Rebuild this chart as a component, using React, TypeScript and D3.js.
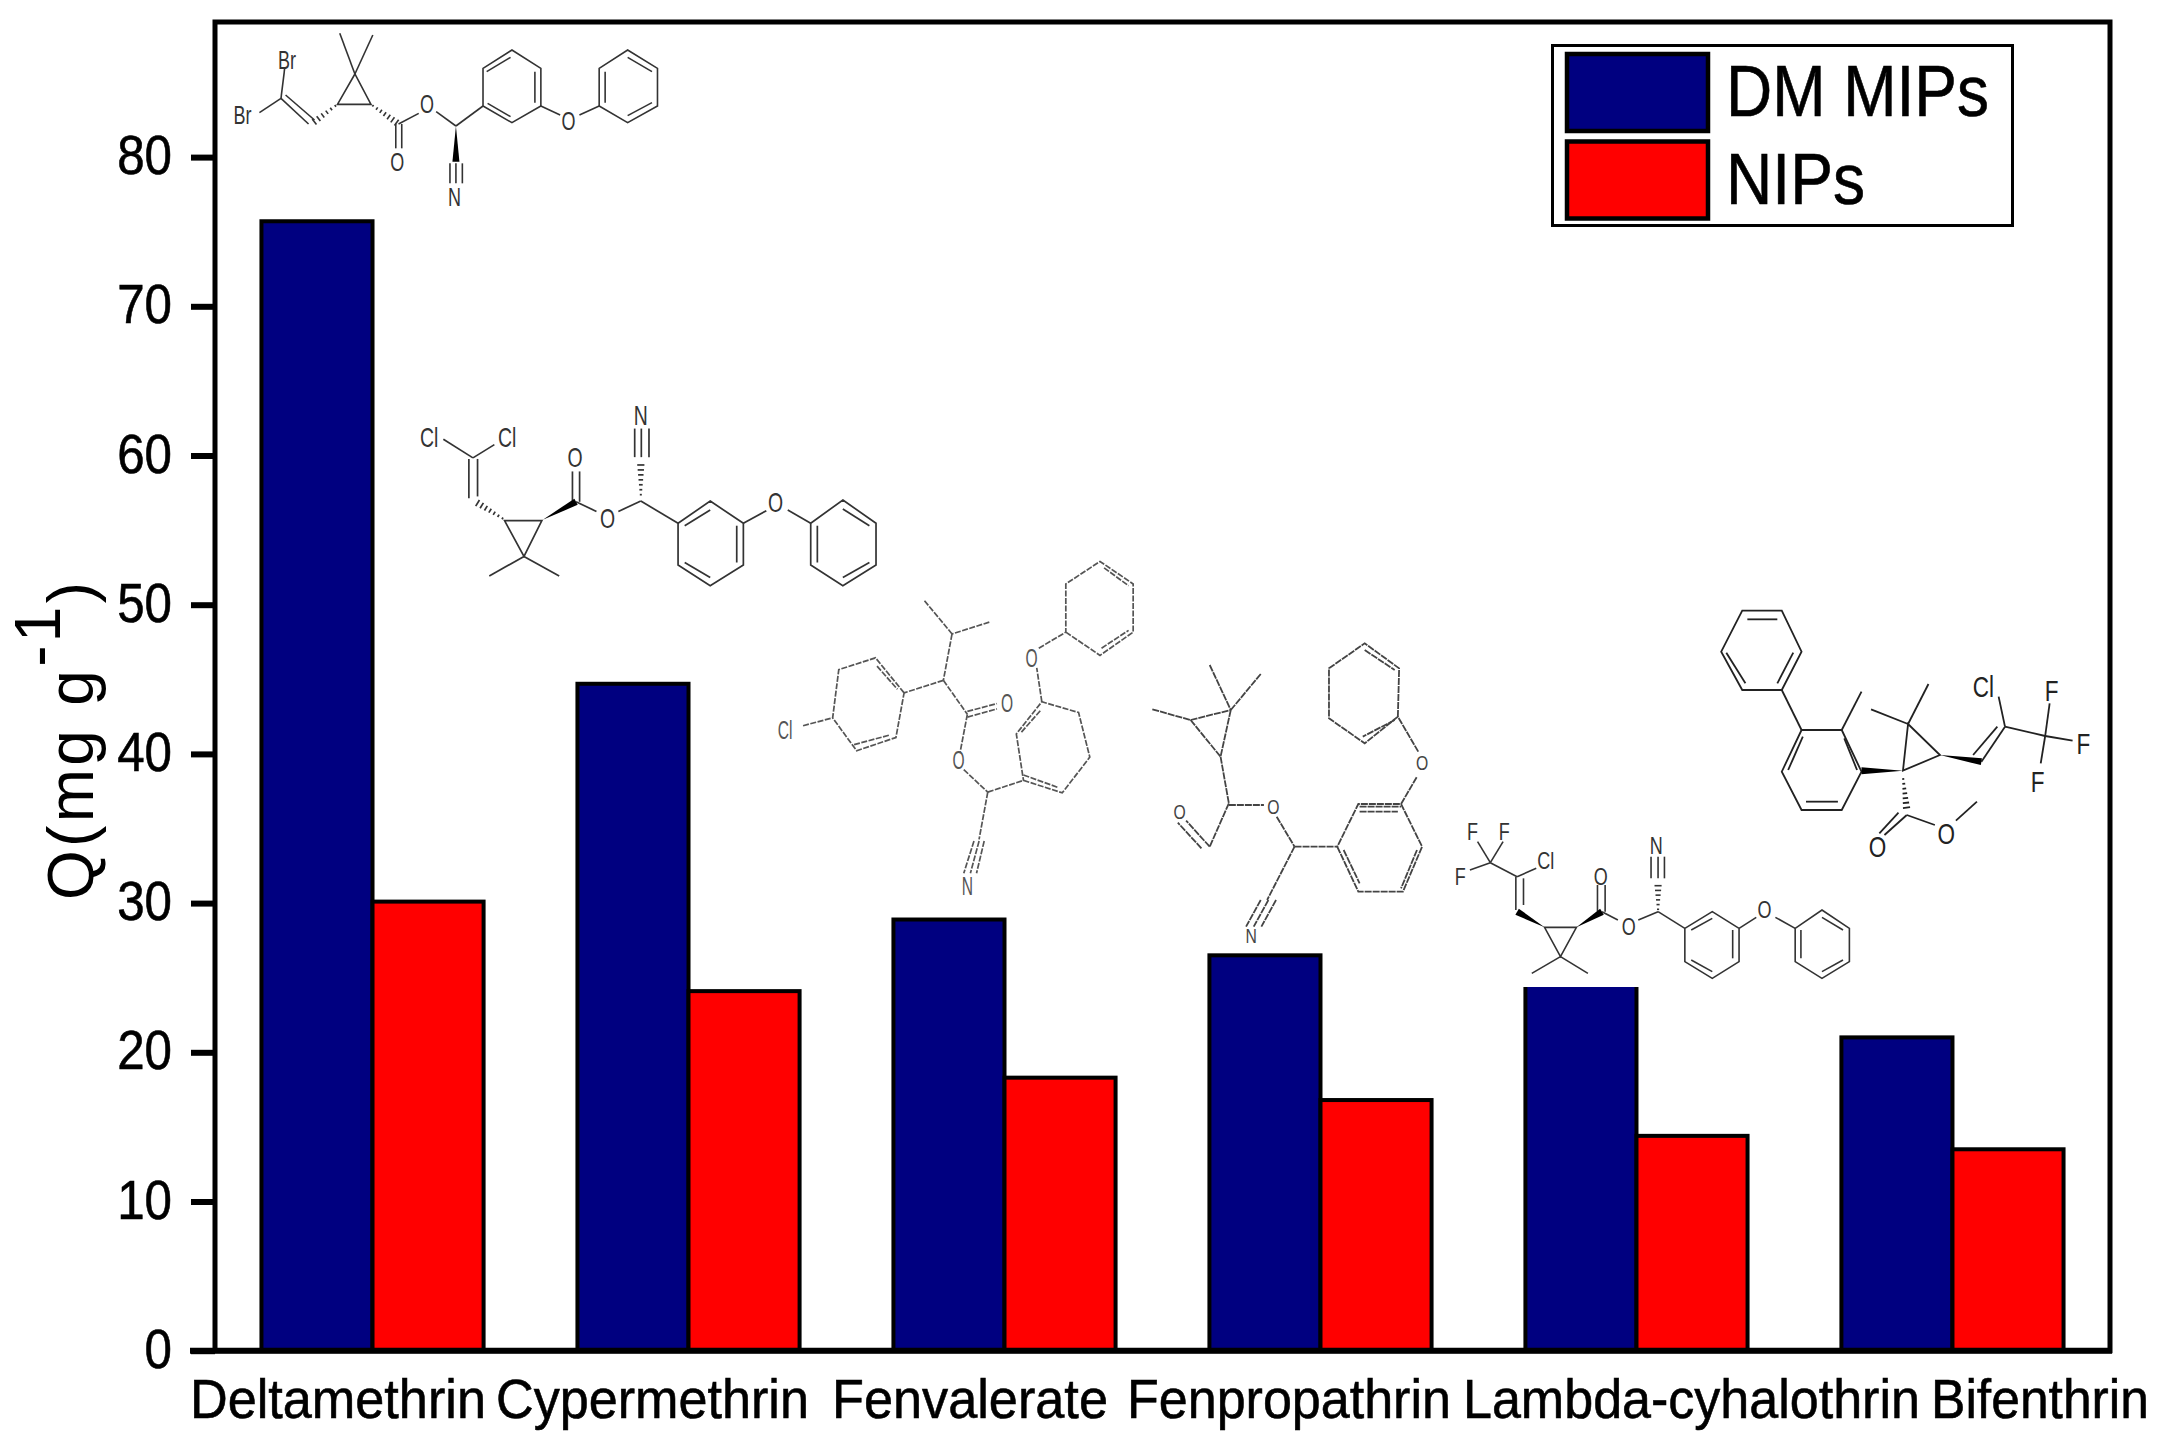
import { useEffect, useRef } from "react";
import * as d3 from "d3";

const categories = ["Deltamethrin", "Cypermethrin", "Fenvalerate", "Fenpropathrin", "Lambda-cyhalothrin", "Bifenthrin"];
const seriesNames = ["DM MIPs", "NIPs"];
const dmMips = [75.7, 44.7, 28.9, 26.5, 24.6, 21.0];
const nips = [30.1, 24.1, 18.3, 16.8, 14.4, 13.5];
const yTicks = [0, 10, 20, 30, 40, 50, 60, 70, 80];

const colors = ["#000080", "#ff0000"];
const FONT = "'Liberation Sans', Arial, sans-serif";

// hand-placed category label spans (the original squeezes them together)
const labelSpans = [
  [190, 486],
  [496, 809],
  [832, 1108],
  [1127, 1451],
  [1463, 1920],
  [1931, 2149],
];

type Seg = number[];
interface Molecule {
  ox: number;
  oy: number;
  sx: number;
  sy: number;
  font: number;
  squeeze: number;
  stroke: string;
  width: number;
  dash?: string;
  bonds: Seg[];
  rings?: number[][];
  wedges?: Seg[];
  hashes?: Seg[];
  labels: [string, number, number][];
}

// The structure drawings are decoration, in crop coordinates
const molecules: Molecule[] = [
  {
    ox: 0, oy: 0, sx: 1 / 2.178, sy: 1 / 3, font: 25, squeeze: 0.72, stroke: "#333", width: 1.6,
    bonds: [
      [740, 100, 773, 222], [812, 105, 773, 222], [612, 295, 672, 372], [622, 285, 685, 360],
      [612, 295, 620, 205], [612, 295, 565, 338], [875, 372, 875, 445], [862, 372, 862, 445],
      [868, 372, 912, 340], [950, 335, 993, 378], [980, 490, 980, 550], [993, 490, 993, 550], [1007, 490, 1007, 550],
      [993, 378, 1052, 318], [1060, 215, 1112, 172], [1165, 215, 1165, 308], [1062, 310, 1112, 350],
      [1178, 318, 1220, 345], [1262, 345, 1305, 318], [1318, 215, 1318, 308], [1367, 172, 1420, 215], [1367, 347, 1420, 308],
    ],
    rings: [
      [773, 222, 735, 313, 808, 313],
      [1115, 150, 1178, 205, 1178, 318, 1115, 368, 1052, 318, 1052, 205],
      [1367, 150, 1432, 205, 1432, 318, 1367, 368, 1305, 318, 1305, 205],
    ],
    wedges: [[993, 378, 993, 485]],
    hashes: [[735, 313, 680, 370], [808, 313, 868, 372]],
    labels: [["Br", 625, 180], ["Br", 528, 345], ["O", 930, 312], ["O", 865, 487], ["N", 990, 592], ["O", 1238, 362]],
  },
  {
    ox: 400, oy: 400, sx: 1 / 1.96, sy: 1 / 2.8, font: 27, squeeze: 0.72, stroke: "#333", width: 1.7,
    bonds: [
      [85, 110, 143, 162], [185, 125, 143, 162], [135, 165, 135, 275], [152, 165, 152, 270],
      [243, 438, 175, 493], [243, 438, 312, 493], [338, 285, 338, 200], [352, 285, 352, 200],
      [345, 285, 385, 312], [428, 312, 472, 283], [460, 160, 460, 80], [473, 160, 473, 80], [488, 160, 488, 80],
      [472, 283, 545, 345], [558, 352, 608, 308], [660, 352, 660, 455], [558, 455, 608, 497],
      [673, 345, 718, 310], [760, 308, 805, 345], [818, 352, 818, 455], [868, 305, 920, 352], [868, 497, 920, 455],
    ],
    rings: [
      [205, 338, 278, 338, 243, 438],
      [608, 283, 673, 345, 673, 462, 608, 520, 545, 462, 545, 345],
      [868, 280, 933, 345, 933, 462, 868, 520, 805, 462, 805, 345],
    ],
    wedges: [[280, 335, 345, 285]],
    hashes: [[205, 335, 148, 285], [472, 272, 472, 175]],
    labels: [["Cl", 57, 103], ["Cl", 210, 103], ["O", 343, 160], ["O", 407, 332], ["N", 472, 42], ["O", 736, 285]],
  },
  {
    ox: 400, oy: 400, sx: 1 / 1.96, sy: 1 / 2.8, font: 26, squeeze: 0.6, stroke: "#555", width: 1.7, dash: "6 1.5",
    bonds: [
      [1028, 562, 1082, 655], [1155, 622, 1082, 655], [1082, 655, 1065, 785], [1065, 785, 988, 820], [1065, 785, 1112, 880],
      [935, 745, 975, 810], [890, 965, 960, 938], [790, 912, 848, 890],
      [1112, 872, 1170, 850], [1112, 888, 1170, 865], [1112, 880, 1098, 985], [1105, 1035, 1152, 1098],
      [1152, 1098, 1222, 1065], [1152, 1098, 1135, 1230], [1125, 1235, 1105, 1325], [1135, 1235, 1118, 1325], [1145, 1235, 1130, 1325],
      [1222, 1050, 1290, 1085], [1218, 930, 1255, 870], [1258, 845, 1248, 750], [1252, 695, 1305, 650],
      [1375, 695, 1428, 645], [1380, 470, 1428, 520],
    ],
    rings: [
      [988, 820, 932, 722, 860, 755, 848, 890, 895, 982, 972, 945],
      [1222, 1065, 1298, 1100, 1352, 1000, 1330, 875, 1258, 845, 1208, 935],
      [1305, 650, 1372, 715, 1437, 650, 1437, 515, 1372, 452, 1305, 515],
    ],
    labels: [["Cl", 755, 922], ["O", 1190, 848], ["O", 1095, 1008], ["N", 1112, 1360], ["O", 1238, 720]],
  },
  {
    ox: 1130, oy: 580, sx: 1 / 1.568, sy: 1 / 3, font: 21, squeeze: 0.75, stroke: "#444", width: 1.8, dash: "7 1",
    bonds: [
      [125, 255, 158, 390], [205, 282, 158, 390], [35, 388, 95, 420], [95, 420, 158, 390], [95, 420, 142, 530],
      [158, 390, 142, 530], [142, 530, 155, 670], [155, 675, 210, 675], [155, 670, 125, 800], [125, 800, 88, 722], [112, 805, 75, 728],
      [230, 710, 258, 800], [258, 800, 325, 800], [258, 800, 215, 960], [205, 960, 182, 1040], [217, 960, 194, 1040], [229, 960, 206, 1040],
      [360, 680, 425, 680], [360, 695, 420, 695], [335, 810, 360, 910], [450, 810, 425, 925],
      [425, 672, 450, 590], [452, 515, 420, 410], [415, 420, 365, 470], [368, 210, 415, 270],
    ],
    rings: [
      [325, 800, 358, 935, 428, 935, 458, 800, 425, 672, 358, 672],
      [420, 410, 368, 490, 312, 415, 312, 265, 368, 190, 422, 265],
    ],
    labels: [["O", 225, 678], ["O", 78, 695], ["N", 190, 1065], ["O", 458, 548]],
  },
  {
    ox: 1130, oy: 580, sx: 1 / 1.568, sy: 1 / 3, font: 24, squeeze: 0.75, stroke: "#333", width: 1.6,
    bonds: [
      [545, 785, 565, 848], [585, 785, 565, 848], [533, 870, 565, 848], [565, 848, 607, 890], [607, 890, 637, 865],
      [605, 890, 605, 990], [617, 895, 617, 975], [675, 1130, 630, 1180], [675, 1130, 718, 1180],
      [733, 995, 733, 915], [745, 995, 745, 915], [740, 995, 765, 1020], [797, 1020, 828, 995],
      [817, 895, 817, 830], [828, 895, 828, 830], [838, 895, 838, 830], [828, 995, 870, 1045],
      [880, 1050, 913, 1015], [945, 1050, 945, 1135], [880, 1140, 913, 1175],
      [955, 1045, 982, 1012], [1012, 1012, 1043, 1045], [1052, 1050, 1052, 1135], [1085, 1012, 1118, 1050], [1085, 1175, 1118, 1140],
    ],
    rings: [
      [650, 1042, 700, 1042, 675, 1130],
      [913, 995, 955, 1045, 955, 1145, 913, 1195, 870, 1145, 870, 1045],
      [1085, 990, 1128, 1045, 1128, 1145, 1085, 1195, 1043, 1145, 1043, 1045],
    ],
    wedges: [[650, 1042, 607, 995], [700, 1042, 740, 995]],
    hashes: [[828, 995, 828, 910]],
    labels: [["F", 537, 755], ["F", 587, 755], ["F", 518, 890], ["Cl", 652, 840], ["O", 738, 890], ["N", 825, 795], ["O", 782, 1040], ["O", 995, 988]],
  },
  {
    ox: 1130, oy: 580, sx: 1 / 1.568, sy: 1 / 3, font: 30, squeeze: 0.75, stroke: "#222", width: 1.8,
    bonds: [
      [968, 118, 1015, 118], [1040, 218, 1015, 310], [935, 218, 965, 310], [1022, 330, 1053, 450],
      [1055, 470, 1032, 570], [1120, 475, 1140, 570], [1060, 665, 1110, 665], [1116, 450, 1147, 335],
      [1220, 432, 1162, 388], [1220, 432, 1252, 312], [1335, 545, 1372, 440], [1322, 525, 1360, 440],
      [1372, 440, 1362, 350], [1372, 440, 1435, 468], [1435, 468, 1442, 370], [1435, 468, 1478, 482], [1435, 468, 1428, 550],
      [1218, 705, 1262, 735], [1295, 722, 1328, 665], [1218, 705, 1183, 765], [1205, 698, 1175, 760],
    ],
    rings: [
      [960, 92, 1022, 92, 1053, 215, 1022, 330, 960, 330, 927, 215],
      [1053, 450, 1116, 450, 1147, 575, 1116, 690, 1053, 690, 1022, 575],
      [1212, 572, 1220, 432, 1270, 525],
    ],
    wedges: [[1212, 572, 1147, 572], [1270, 525, 1335, 545]],
    hashes: [[1212, 590, 1218, 690]],
    labels: [["Cl", 1338, 318], ["F", 1445, 332], ["F", 1495, 490], ["F", 1423, 605], ["O", 1280, 760], ["O", 1172, 798]],
  },
];

const App = () => {
  const ref = useRef<SVGSVGElement>(null);

  useEffect(() => {
    const svg = d3.select(ref.current);
    svg.selectAll("*").remove();

    const left = 215;
    const right = 2110;
    const top = 22;
    const bottom = 1350.7;

    const x = d3.scaleBand().domain(categories).range([left, right]).paddingInner(0.297).paddingOuter(0.147);
    const inner = d3.scaleBand().domain(seriesNames).range([0, x.bandwidth()]);
    const y = d3.scaleLinear().domain([0, 80]).range([bottom, bottom - 80 * 14.92]);

    // squeeze a text horizontally so that it fills x0..x1
    const fitText = (sel: any, x0: number, x1: number, baseline: number) => {
      const natural = (sel.node() as SVGTextElement).getComputedTextLength();
      sel.attr("transform", `translate(${x0},${baseline}) scale(${(x1 - x0) / natural},1)`);
    };

    svg.append("rect").attr("width", 2173).attr("height", 1440).attr("fill", "#fff");

    // bars
    [dmMips, nips].forEach((values, si) => {
      svg
        .append("g")
        .selectAll("rect")
        .data(values)
        .enter()
        .append("rect")
        .attr("x", (_, i) => x(categories[i])! + inner(seriesNames[si])!)
        .attr("y", (d) => y(d))
        .attr("width", inner.bandwidth())
        .attr("height", (d) => bottom - y(d))
        .attr("fill", colors[si])
        .attr("stroke", "#000")
        .attr("stroke-width", 4);
    });

    // white background of the pasted lambda-cyhalothrin structure clips its bar's top edge
    svg.append("rect").attr("x", 1450).attr("y", 820).attr("width", 400).attr("height", 167).attr("fill", "#fff");

    // structures
    molecules.forEach((m) => {
      const px = (v: number) => m.ox + v * m.sx;
      const py = (v: number) => m.oy + v * m.sy;
      const g = svg
        .append("g")
        .attr("fill", "none")
        .attr("stroke", m.stroke)
        .attr("stroke-width", m.width)
        .attr("stroke-dasharray", m.dash ?? null);
      m.bonds.forEach((b) => {
        g.append("line").attr("x1", px(b[0])).attr("y1", py(b[1])).attr("x2", px(b[2])).attr("y2", py(b[3]));
      });
      (m.rings ?? []).forEach((r) => {
        const pts = d3.range(0, r.length, 2).map((i) => [px(r[i]), py(r[i + 1])] as [number, number]);
        g.append("path").attr("d", d3.line().curve(d3.curveLinearClosed)(pts));
      });
      (m.wedges ?? []).forEach((w) => {
        const [x1, y1, x2, y2] = [px(w[0]), py(w[1]), px(w[2]), py(w[3])];
        const len = Math.hypot(x2 - x1, y2 - y1);
        const nx = (-(y2 - y1) / len) * 3.5;
        const ny = ((x2 - x1) / len) * 3.5;
        g.append("path")
          .attr("d", `M${x1},${y1}L${x2 + nx},${y2 + ny}L${x2 - nx},${y2 - ny}Z`)
          .attr("fill", "#000")
          .attr("stroke", "none");
      });
      (m.hashes ?? []).forEach((h) => {
        const [x1, y1, x2, y2] = [px(h[0]), py(h[1]), px(h[2]), py(h[3])];
        const len = Math.hypot(x2 - x1, y2 - y1);
        const n = Math.round(len / 5);
        d3.range(n).forEach((i) => {
          const t = (i + 0.5) / n;
          const cx = x1 + (x2 - x1) * t;
          const cy = y1 + (y2 - y1) * t;
          const hw = 0.8 + t * 3;
          const nx = (-(y2 - y1) / len) * hw;
          const ny = ((x2 - x1) / len) * hw;
          g.append("line").attr("x1", cx - nx).attr("y1", cy - ny).attr("x2", cx + nx).attr("y2", cy + ny).attr("stroke-dasharray", null);
        });
      });
      m.labels.forEach(([t, lx, ly]) => {
        svg
          .append("text")
          .attr("transform", `translate(${px(lx)},${py(ly)}) scale(${m.squeeze},1)`)
          .attr("text-anchor", "middle")
          .attr("dy", "0.36em")
          .attr("font-family", FONT)
          .attr("font-size", m.font)
          .attr("fill", m.stroke)
          .text(t);
      });
    });

    // frame
    svg
      .append("rect")
      .attr("x", left)
      .attr("y", top)
      .attr("width", right - left)
      .attr("height", bottom - top)
      .attr("fill", "none")
      .attr("stroke", "#000")
      .attr("stroke-width", 5);
    svg.append("line").attr("x1", 190).attr("x2", right + 2).attr("y1", bottom).attr("y2", bottom).attr("stroke", "#000").attr("stroke-width", 6);

    // y axis
    const yAxis = svg
      .append("g")
      .attr("transform", `translate(${left},0)`)
      .call(d3.axisLeft(y).tickValues(yTicks).tickSize(24).tickFormat((d) => String(d)));
    yAxis.select(".domain").remove();
    yAxis.selectAll(".tick line").attr("stroke", "#000").attr("stroke-width", 6);
    yAxis
      .selectAll(".tick text")
      .attr("x", 0)
      .attr("dy", null)
      .attr("y", 16.5)
      .attr("transform", "translate(-43,0) scale(0.88,1)")
      .attr("text-anchor", "end")
      .attr("font-family", FONT)
      .attr("font-size", 56)
      .attr("fill", "#000")
      .attr("stroke", "#000")
      .attr("stroke-width", 0.6);

    // category labels
    categories.forEach((name, i) => {
      const label = svg
        .append("text")
        .attr("font-family", FONT)
        .attr("font-size", 56)
        .attr("fill", "#000")
        .attr("stroke", "#000")
        .attr("stroke-width", 0.6)
        .text(name);
      fitText(label, labelSpans[i][0], labelSpans[i][1], 1418);
    });

    // y title
    const title = svg
      .append("text")
      .attr("transform", "translate(92.7,900) rotate(-90)")
      .attr("font-family", FONT)
      .attr("font-size", 64)
      .attr("textLength", 318)
      .attr("lengthAdjust", "spacing")
      .attr("fill", "#000");
    title.append("tspan").text("Q(mg g");
    title.append("tspan").attr("dy", -33).text("-1");
    title.append("tspan").attr("dy", 33).text(")");

    // legend
    svg
      .append("rect")
      .attr("x", 1552.5)
      .attr("y", 45.5)
      .attr("width", 460)
      .attr("height", 180)
      .attr("fill", "#fff")
      .attr("stroke", "#000")
      .attr("stroke-width", 3);
    seriesNames.forEach((name, i) => {
      const rowY = 54 + i * 87.5;
      svg
        .append("rect")
        .attr("x", 1567)
        .attr("y", rowY)
        .attr("width", 141)
        .attr("height", 77)
        .attr("fill", colors[i])
        .attr("stroke", "#000")
        .attr("stroke-width", 4.5);
      const entry = svg
        .append("text")
        .attr("font-family", FONT)
        .attr("font-size", 72)
        .attr("fill", "#000")
        .attr("stroke", "#000")
        .attr("stroke-width", 0.6)
        .text(name);
      fitText(entry, 1726, i === 0 ? 1989 : 1865, 116 + i * 87.5);
    });
  }, []);

  return <svg ref={ref} width={2173} height={1440} style={{ position: "absolute", left: 0, top: 0, display: "block" }} />;
};

export default App;
